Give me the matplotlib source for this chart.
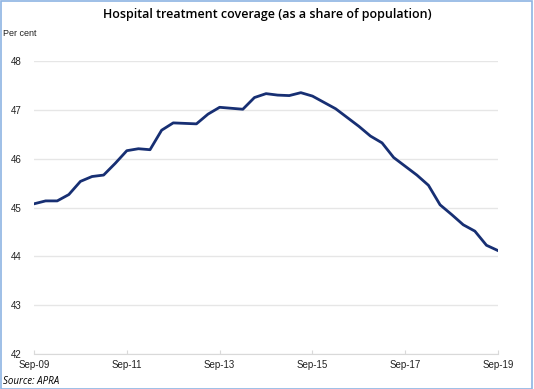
import matplotlib.pyplot as plt
from matplotlib.patches import Rectangle

plt.rcParams["font.family"] = ["Liberation Sans", "DejaVu Sans"]

# quarterly, Sep-09 to Sep-19
coverage = [
    45.08, 45.14, 45.14, 45.27, 45.54, 45.64, 45.67, 45.91, 46.17, 46.21,
    46.19, 46.59, 46.74, 46.73, 46.72, 46.92, 47.06, 47.04, 47.02, 47.26,
    47.34, 47.31, 47.30, 47.36, 47.29, 47.16, 47.03, 46.85, 46.67, 46.47,
    46.33, 46.03, 45.85, 45.67, 45.46, 45.06, 44.86, 44.65, 44.52, 44.23,
    44.12,
]
quarters = list(range(len(coverage)))
tick_pos = [0, 8, 16, 24, 32, 40]
tick_labels = ["Sep-09", "Sep-11", "Sep-13", "Sep-15", "Sep-17", "Sep-19"]
y_ticks = [42, 43, 44, 45, 46, 47, 48]

fig = plt.figure(figsize=(5.34, 3.89), dpi=100)
ax = fig.add_axes([0.0637, 0.09, 0.869, 0.752])

ax.plot(quarters, coverage, color="#172f73", linewidth=2.0, solid_joinstyle="round")

ax.set_xlim(0, 40)
ax.set_ylim(42, 48)
ax.set_yticks(y_ticks)
ax.set_xticks(tick_pos)
ax.set_xticklabels(tick_labels)
ax.grid(axis="y", color="#e6e6e6", linewidth=1)
ax.set_axisbelow(True)
for s in ["top", "right", "left"]:
    ax.spines[s].set_visible(False)
ax.spines["bottom"].set_color("#d9d9d9")
ax.tick_params(axis="y", length=0, labelsize=7, pad=9, colors="#222222")
ax.tick_params(axis="x", length=3, direction="in", color="#d9d9d9",
               labelsize=7, pad=4, colors="#222222")

fig.text(0.5, 0.963, "Hospital treatment coverage (as a share of population)",
         ha="center", va="center", fontsize=9, fontweight="semibold",
         family="Open Sans")
fig.text(0.006, 0.915, "Per cent", ha="left", va="center", fontsize=6.5,
         color="#222222")
fig.text(0.006, 0.02, "Source: APRA", ha="left", va="center", fontsize=7,
         style="italic", family="Open Sans")

fig.patches.append(Rectangle((0.001, 0.001), 0.996, 0.996, transform=fig.transFigure,
                             fill=False, edgecolor="#8eb4e3", linewidth=1.2))

fig.savefig("out.png", dpi=100)
